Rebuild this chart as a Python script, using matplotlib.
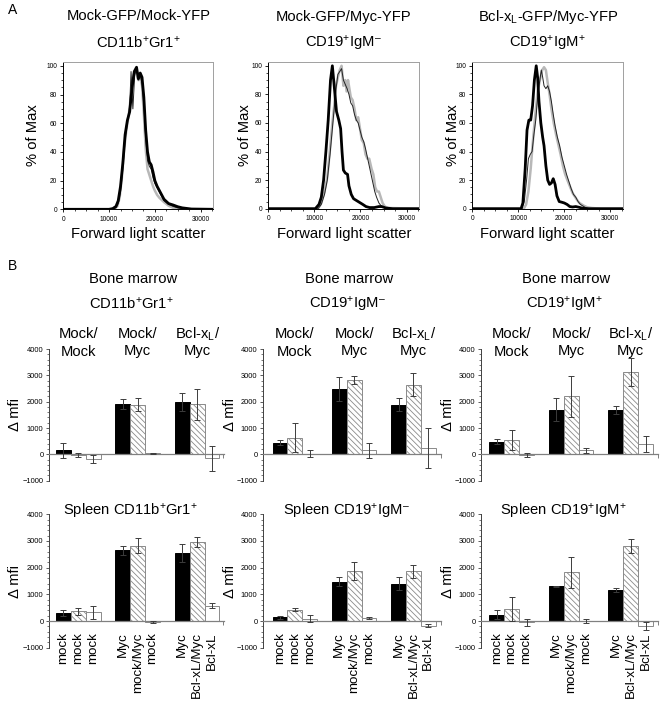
import numpy as np
import matplotlib
matplotlib.use("Agg")
import matplotlib.pyplot as plt
from matplotlib.ticker import MultipleLocator, FixedLocator
import matplotlib.transforms as mtransforms

# ---------------- data: flow histograms (% of max vs forward scatter) ----------------
a1_thick_x = [0, 10000, 10800, 11500, 12000, 12500, 13000, 13500, 14000, 14500, 15000, 15500, 16000, 16400,
              16800, 17200, 17600, 18000, 18400, 18800, 19200, 19600, 20000, 20500, 21000, 21500, 22000,
              23000, 24000, 25000, 26000, 28000, 32768]
a1_thick_y = [0, 0, 0.5, 2, 6, 16, 32, 52, 62, 68, 84, 96, 99, 91, 95, 92, 78, 55, 40, 33, 31, 26, 20, 16,
              13, 10, 7, 4, 3, 1.8, 1, 0.2, 0]
a1_thin_x = [0, 10500, 11500, 12000, 12500, 13000, 13500, 14000, 14500, 14800, 15200, 15600, 16000, 16400,
             16800, 17200, 17600, 18000, 18400, 18800, 19200, 19600, 20000, 20500, 21000, 21500, 22000,
             23000, 24000, 25000, 27000, 32768]
a1_thin_y = [0, 0, 1, 4, 12, 28, 48, 60, 72, 96, 70, 94, 97, 90, 93, 88, 72, 50, 34, 30, 28, 22, 18, 15,
             12, 9, 6, 3.5, 2, 1, 0, 0]
a1_gray_x = [0, 11000, 11800, 12300, 12800, 13300, 13800, 14300, 14800, 15200, 15600, 16000, 16400, 16800,
             17200, 17600, 18000, 18400, 18800, 19200, 19600, 20000, 20500, 21000, 22000, 23000, 24000,
             26000, 32768]
a1_gray_y = [0, 0, 2, 8, 22, 42, 56, 66, 80, 92, 96, 94, 90, 92, 86, 66, 42, 28, 24, 20, 16, 13, 10, 8,
             5, 2.5, 1, 0, 0]

a2_thick_x = [0, 10200, 11000, 11500, 12000, 12500, 13000, 13500, 13900, 14300, 14800, 15300, 15700, 16000,
              16300, 16700, 17200, 17500, 18000, 18500, 19000, 19500, 20000, 20500, 21200, 22000, 23000,
              24000, 24600, 25500, 27000, 32768]
a2_thick_y = [0, 0, 3, 8, 20, 40, 62, 90, 100, 86, 68, 62, 56, 40, 27, 25, 24, 16, 10, 7, 6, 5, 4, 3,
              1.5, 0.8, 0.8, 1.5, 1.5, 0.5, 0, 0]
a2_thin_x = [0, 10800, 11500, 12200, 12800, 13400, 13900, 14300, 14700, 15100, 15500, 15900, 16300, 16700,
             17100, 17500, 17900, 18300, 18700, 19100, 19500, 19900, 20300, 20700, 21100, 21500, 21900,
             22300, 22700, 23100, 23500, 24000, 24500, 25000, 26000, 32768]
a2_thin_y = [0, 0, 3, 10, 20, 38, 56, 70, 84, 94, 96, 98, 90, 87, 84, 80, 74, 72, 66, 62, 60, 55, 50, 47,
             42, 36, 30, 24, 18, 12, 8, 4, 2, 1, 0, 0]
a2_gray_x = [0, 10800, 11500, 12200, 12800, 13400, 13900, 14300, 14700, 15100, 15500, 15900, 16300, 16700,
             17000, 17300, 17600, 17900, 18300, 18700, 19100, 19500, 19900, 20300, 20700, 21100, 21500,
             21900, 22400, 22800, 23200, 23600, 24000, 24400, 24800, 25300, 26000, 32768]
a2_gray_y = [0, 0, 4, 12, 22, 42, 60, 72, 86, 92, 97, 100, 86, 90, 82, 90, 84, 78, 76, 70, 62, 64, 56, 48,
             46, 38, 35, 35, 28, 24, 15, 12, 12, 8, 4, 1.5, 0.5, 0]

a3_thick_x = [0, 10600, 11000, 11500, 11900, 12300, 12700, 13100, 13500, 13900, 14200, 14500, 14900, 15300,
              15600, 16000, 16400, 16800, 17200, 17600, 18000, 18400, 18900, 19500, 20000, 20600, 21200,
              21800, 22500, 23200, 24000, 25000, 32768]
a3_thick_y = [0, 0, 4, 28, 55, 62, 62, 72, 90, 100, 92, 75, 60, 50, 44, 30, 20, 17, 18, 21, 17, 9, 5,
              4.5, 4, 3, 1.5, 1.2, 1.5, 1, 0.3, 0, 0]
a3_thin_x = [0, 10800, 11300, 11800, 12200, 12600, 13000, 13400, 13800, 14200, 14600, 15000, 15300, 15600,
             16000, 16400, 16800, 17200, 17600, 18000, 18500, 19000, 19500, 20000, 20500, 21000, 21500,
             22000, 22500, 23000, 23500, 24500, 25500, 32768]
a3_thin_y = [0, 0, 5, 20, 35, 38, 40, 52, 62, 78, 88, 97, 92, 86, 84, 86, 82, 75, 66, 58, 50, 44, 36, 30,
             24, 19, 14, 10, 8, 5, 3, 1, 0, 0]
a3_gray_x = [0, 11200, 11700, 12200, 12700, 13200, 13700, 14200, 14700, 15200, 15600, 16000, 16400, 16800,
             17200, 17700, 18200, 18700, 19200, 19700, 20200, 20800, 21300, 21800, 22300, 22800, 23300,
             23800, 24300, 25000, 26000, 28000, 32768]
a3_gray_y = [0, 0, 3, 12, 28, 48, 66, 82, 90, 97, 99, 97, 88, 80, 70, 60, 52, 45, 38, 30, 24, 19, 15, 11,
             8.5, 6, 4, 3, 2, 1, 0.5, 0, 0]

hist_titles = [("Mock-GFP/Mock-YFP", r"CD11b$^{+}$Gr1$^{+}$"),
               ("Mock-GFP/Myc-YFP", "CD19$^{+}$IgM$^{\u2013}$"),
               (r"Bcl-x$_{\mathrm{L}}$-GFP/Myc-YFP", r"CD19$^{+}$IgM$^{+}$")]

# ---------------- data: delta mfi bars (black, hatched, white per group) ----------------
bar_pos = [0, 1, 2, 4, 5, 6, 8, 9, 10]
bm_cd11b_mean = [150, -30, -180, 1920, 1880, 40, 1980, 1900, -150]
bm_cd11b_err = [300, 70, 150, 200, 250, 20, 350, 600, 480]
bm_igmneg_mean = [450, 640, 30, 2470, 2820, 150, 1880, 2650, 250]
bm_igmneg_err = [100, 540, 120, 450, 150, 300, 250, 420, 760]
bm_igmpos_mean = [480, 560, -20, 1700, 2200, 150, 1700, 3120, 400]
bm_igmpos_err = [100, 380, 90, 430, 770, 100, 150, 520, 300]
sp_cd11b_mean = [300, 370, 320, 2650, 2820, -50, 2550, 2970, 580]
sp_cd11b_err = [120, 130, 250, 170, 280, 40, 320, 180, 100]
sp_igmneg_mean = [140, 430, 80, 1480, 1870, 120, 1400, 1860, -170]
sp_igmneg_err = [60, 40, 130, 160, 330, 30, 250, 230, 60]
sp_igmpos_mean = [230, 460, -50, 1300, 1830, 0, 1160, 2800, -180]
sp_igmpos_err = [170, 450, 120, 30, 580, 60, 80, 260, 160]

group_labels = [("Mock/", "Mock"), ("Mock/", "Myc"), (r"Bcl-x$_{\mathrm{L}}$/", "Myc")]
spleen_ticklabels = ["mock", "mock", "mock", "Myc", "mock/Myc", "mock", "Myc", "Bcl-xL/Myc", "Bcl-xL"]
bm_titles = [r"CD11b$^{+}$Gr1$^{+}$", "CD19$^{+}$IgM$^{\u2013}$", r"CD19$^{+}$IgM$^{+}$"]
sp_titles = [r"Spleen CD11b$^{+}$Gr1$^{+}$", "Spleen CD19$^{+}$IgM$^{\u2013}$", r"Spleen CD19$^{+}$IgM$^{+}$"]

# ---------------- style ----------------
plt.rcParams["font.family"] = ["Liberation Sans", "DejaVu Sans"]
plt.rcParams["mathtext.fontset"] = "custom"
plt.rcParams["mathtext.rm"] = "Liberation Sans"
plt.rcParams["mathtext.it"] = "Liberation Sans:italic"
plt.rcParams["mathtext.bf"] = "Liberation Sans:bold"
plt.rcParams["hatch.linewidth"] = 0.6
plt.rcParams["hatch.color"] = "#666666"

W, H = 662, 704
fig = plt.figure(figsize=(6.62, 7.04), dpi=100)
BIG = 10.6


def rect(l, t, r, b):
    return [l / W, 1 - b / H, (r - l) / W, (b - t) / H]


def ftext(x, y, s, **kw):
    fig.text(x / W, 1 - y / H, s, **kw)


ftext(8, 10, "A", fontsize=10, ha="left", va="center")
ftext(8, 266, "B", fontsize=10, ha="left", va="center")

# ---------------- row A ----------------
hist_boxes = [(63.3, 61.5, 213.3, 209.3), (268.3, 61.5, 419.3, 208.7), (472.3, 61.5, 623.0, 208.7)]
hist_data = [(a1_gray_x, a1_gray_y, a1_thin_x, a1_thin_y, a1_thick_x, a1_thick_y),
             (a2_gray_x, a2_gray_y, a2_thin_x, a2_thin_y, a2_thick_x, a2_thick_y),
             (a3_gray_x, a3_gray_y, a3_thin_x, a3_thin_y, a3_thick_x, a3_thick_y)]
hist_ylab_x = [33, 245, 453]

for i, box in enumerate(hist_boxes):
    ax = fig.add_axes(rect(*box))
    gx, gy, tx, ty, kx, ky = hist_data[i]
    ax.plot(gx, gy, color="#b8b8b8", lw=1.8, solid_joinstyle="round")
    ax.plot(tx, ty, color="#222222", lw=0.7)
    ax.plot(kx, ky, color="black", lw=2.0, solid_joinstyle="round")
    ax.set_xlim(0, 32768)
    ax.set_ylim(0, 103)
    ax.xaxis.set_major_locator(FixedLocator([0, 10000, 20000, 30000]))
    ax.xaxis.set_minor_locator(MultipleLocator(2500))
    ax.yaxis.set_major_locator(FixedLocator([0, 20, 40, 60, 80, 100]))
    ax.yaxis.set_minor_locator(MultipleLocator(5))
    ax.tick_params(which="major", length=2.5, width=0.6, labelsize=4.8, pad=2)
    ax.tick_params(which="minor", length=1.3, width=0.5)
    for s in ("top", "right"):
        ax.spines[s].set_color("#a0a0a0")
    for s in ax.spines.values():
        s.set_linewidth(0.7)
    cx = (box[0] + box[2]) / 2
    ftext(cx, 20.5, hist_titles[i][0], fontsize=BIG, ha="center", va="baseline")
    ftext(cx, 47.5, hist_titles[i][1], fontsize=BIG, ha="center", va="baseline")
    ftext(cx, 238, "Forward light scatter", fontsize=BIG, ha="center", va="baseline")
    ftext(hist_ylab_x[i], (box[1] + box[3]) / 2, "% of Max", fontsize=BIG, rotation=90,
          ha="center", va="center")

# ---------------- row B ----------------
bar_cols = [(49, 223.5, -0.97, 10.77), (263, 441, -1.15, 10.86), (481, 658, -1.06, 10.84)]
bar_rows = [(349, 480.7), (514.3, 647.7)]
bar_ylab_x = [15, 230, 448]
bm_sets = [(bm_cd11b_mean, bm_cd11b_err), (bm_igmneg_mean, bm_igmneg_err), (bm_igmpos_mean, bm_igmpos_err)]
sp_sets = [(sp_cd11b_mean, sp_cd11b_err), (sp_igmneg_mean, sp_igmneg_err), (sp_igmpos_mean, sp_igmpos_err)]
styles = [dict(color="black", edgecolor="black"),
          dict(color="white", edgecolor="#8a8a8a", hatch="\\" * 6),
          dict(color="white", edgecolor="#8a8a8a")]

for r, (top, bot) in enumerate(bar_rows):
    sets = bm_sets if r == 0 else sp_sets
    for c, (left, right, x0, x1) in enumerate(bar_cols):
        ax = fig.add_axes(rect(left, top, right, bot))
        mean, err = sets[c]
        for k in range(3):
            ax.bar(bar_pos[k::3], mean[k::3], width=1.0, linewidth=0.7, zorder=2, **styles[k])
        ax.errorbar(bar_pos, mean, yerr=err, fmt="none", ecolor="#3c3c3c", elinewidth=0.7,
                    capsize=2.2, capthick=0.7, zorder=3)
        ax.set_xlim(x0, x1)
        ax.set_ylim(-1000, 4000)
        ax.spines["top"].set_visible(False)
        ax.spines["right"].set_visible(False)
        ax.spines["bottom"].set_position(("data", 0))
        ax.spines["bottom"].set_color("#808080")
        ax.spines["bottom"].set_linewidth(0.9)
        ax.spines["left"].set_color("#404040")
        ax.spines["left"].set_linewidth(0.7)
        ax.yaxis.set_major_locator(FixedLocator([-1000, 0, 1000, 2000, 3000, 4000]))
        ax.yaxis.set_minor_locator(MultipleLocator(200))
        ax.tick_params(axis="y", which="major", length=2.5, width=0.6, labelsize=5.4, pad=1.5,
                       color="#404040")
        ax.tick_params(axis="y", which="minor", length=1.3, width=0.5, color="#404040")
        ax.xaxis.set_minor_locator(FixedLocator([x1 - 0.02]))
        ax.tick_params(axis="x", which="minor", length=3, width=0.7, color="#808080")
        ax.set_xticks(bar_pos)
        if r == 0:
            ax.set_xticklabels([])
            ax.tick_params(axis="x", which="major", length=0)
            cx = (left + right) / 2
            ftext(cx - 3, 283.3, "Bone marrow", fontsize=BIG, ha="center", va="baseline")
            ftext(cx - 5, 308.3, bm_titles[c], fontsize=BIG, ha="center", va="baseline")
            tr = mtransforms.blended_transform_factory(ax.transData, fig.transFigure)
            for g, (l1, l2) in enumerate(group_labels):
                gx = bar_pos[3 * g + 1]
                ax.text(gx, 1 - 338.3 / H, l1, transform=tr, fontsize=BIG, ha="center", va="baseline")
                ax.text(gx, 1 - 355.5 / H, l2, transform=tr, fontsize=BIG, ha="center", va="baseline")
        else:
            ax.set_xticklabels(spleen_ticklabels, rotation=90, fontsize=9.6)
            ax.tick_params(axis="x", which="major", length=0, pad=8)
            cx = (left + right) / 2
            ftext(cx - 6, 516, sp_titles[c], fontsize=BIG, ha="center", va="baseline")
        ftext(bar_ylab_x[c], (top + bot) / 2, "Δ mfi", fontsize=BIG, rotation=90,
              ha="center", va="center")

fig.savefig("out.png", dpi=100)
